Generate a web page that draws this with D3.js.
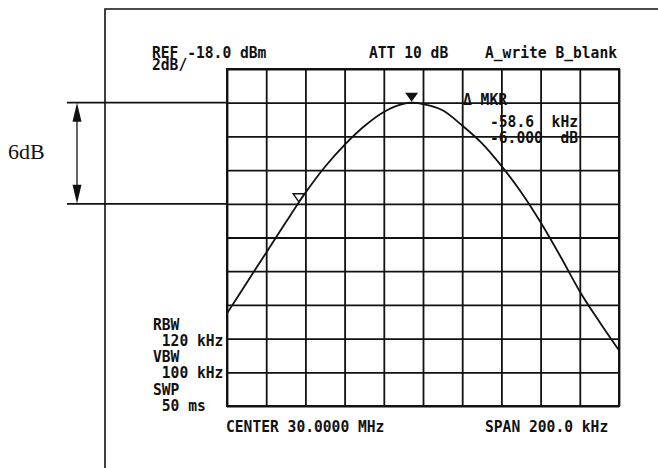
<!DOCTYPE html>
<html>
<head>
<meta charset="utf-8">
<script src="https://cdn.jsdelivr.net/npm/d3@7"></script>
<style>
  html, body { margin: 0; padding: 0; background: #fff; }
  svg { display: block; }
  .mono { font-family: "DejaVu Sans Mono", "Liberation Mono", monospace; font-size: 15px; font-weight: bold; fill: #111; white-space: pre; }
  .serif { font-family: "Liberation Serif", "DejaVu Serif", serif; font-size: 22px; fill: #111; }
</style>
</head>
<body>
<svg id="chart" width="658" height="468"></svg>
<script>
// Swept trace: offset from the 30 MHz centre (kHz) and displayed level (dBm)
const offsetKHz = [-100, -90, -80, -70, -60, -50, -40, -30, -20, -10, -5.8, 0, 10, 20, 30, 40, 50, 60, 70, 80, 90, 100];
const levelDbm  = [-32.5, -30.7, -28.9, -27.1, -25.35, -23.8, -22.5, -21.4, -20.55, -20.07, -20.0, -20.08, -20.45, -21.35, -22.4, -23.75, -25.3, -27.1, -29.1, -31.2, -33.0, -34.7];

// Graticule divisions: 20 kHz/div horizontally, 2 dB/div from the -18 dBm reference
const freqDivs  = [-100, -80, -60, -40, -20, 0, 20, 40, 60, 80, 100];
const levelDivs = [-18, -20, -22, -24, -26, -28, -30, -32, -34, -36, -38];

// Peak marker and delta marker readout
const markerKHz = -5.8;
const markerDbm = -20.0;
const deltaKHz = -58.6;
const deltaDb = -6.0;

// Annotation texts
const headerLeft = ["REF -18.0 dBm", "2dB/"];
const headerMid = "ATT 10 dB";
const headerRight = "A_write B_blank";
const deltaLines = ["\u0394 MKR", "-58.6  kHz", "-6.000  dB"];
const bwLabels = ["RBW", " 120 kHz", "VBW", " 100 kHz", "SWP", " 50 ms"];
const footerLeft = "CENTER 30.0000 MHz";
const footerRight = "SPAN 200.0 kHz";
const spanLabel = "6dB";

const svg = d3.select("#chart");
const ink = "#111";
const gx0 = 227, gx1 = 619, gy0 = 69, gy1 = 406;

const x = d3.scaleLinear().domain([-100, 100]).range([gx0, gx1]);
const y = d3.scaleLinear().domain([-38, -18]).range([gy1, gy0]);

// Outer frame of the screen photo
svg.append("path")
  .attr("d", "M105,468 V9 H658")
  .attr("fill", "none").attr("stroke", ink).attr("stroke-width", 1.6);

// Graticule
const gridX = svg.append("g")
  .attr("transform", `translate(0,${gy1})`)
  .call(d3.axisBottom(x).tickValues(freqDivs).tickSize(-(gy1 - gy0)).tickFormat(""));
const gridY = svg.append("g")
  .attr("transform", `translate(${gx0},0)`)
  .call(d3.axisLeft(y).tickValues(levelDivs).tickSize(-(gx1 - gx0)).tickFormat(""));
[gridX, gridY].forEach(g => {
  g.select(".domain").remove();
  g.selectAll(".tick line").attr("stroke", ink).attr("stroke-width", 1.8);
});
svg.append("rect")
  .attr("x", gx0).attr("y", gy0).attr("width", gx1 - gx0).attr("height", gy1 - gy0)
  .attr("fill", "none").attr("stroke", ink).attr("stroke-width", 2);

// Trace
svg.append("clipPath").attr("id", "clip")
  .append("rect").attr("x", gx0).attr("y", gy0).attr("width", gx1 - gx0).attr("height", gy1 - gy0);
const pts = offsetKHz.map((f, i) => [f, levelDbm[i]]);
svg.append("path")
  .datum(pts)
  .attr("clip-path", "url(#clip)")
  .attr("d", d3.line().x(d => x(d[0])).y(d => y(d[1])).curve(d3.curveMonotoneX))
  .attr("fill", "none").attr("stroke", ink).attr("stroke-width", 1.8);

// Peak marker (filled) and delta marker (hollow)
const tri = (cx, tipY, w, h) => `M${cx - w / 2},${tipY - h} L${cx + w / 2},${tipY - h} L${cx},${tipY} Z`;
svg.append("path")
  .attr("d", tri(x(markerKHz), y(markerDbm) - 1, 13, 9))
  .attr("fill", ink);
svg.append("path")
  .attr("d", tri(x(markerKHz + deltaKHz) + 2, y(markerDbm + deltaDb) - 2, 11, 8))
  .attr("fill", "#fff").attr("stroke", ink).attr("stroke-width", 1.5);

// 6 dB span annotation on the left
const yTop = y(markerDbm), yBot = y(markerDbm + deltaDb);
[yTop, yBot].forEach(v => {
  svg.append("line").attr("x1", 67).attr("x2", gx0).attr("y1", v).attr("y2", v)
    .attr("stroke", ink).attr("stroke-width", 1.8);
});
const ax = 77;
svg.append("line").attr("x1", ax).attr("x2", ax).attr("y1", yTop + 10).attr("y2", yBot - 10)
  .attr("stroke", ink).attr("stroke-width", 1.3);
svg.append("path").attr("d", `M${ax},${yTop} L${ax - 4.5},${yTop + 19} L${ax + 4.5},${yTop + 19} Z`).attr("fill", ink);
svg.append("path").attr("d", `M${ax},${yBot} L${ax - 4.5},${yBot - 19} L${ax + 4.5},${yBot - 19} Z`).attr("fill", ink);
svg.append("text").attr("class", "serif").attr("x", 8).attr("y", 159).text(spanLabel);

// Monospaced screen annotations (condensed to the display's character pitch)
const pitch = 8.8;
function label(txt, px, py) {
  svg.append("text").attr("class", "mono")
    .attr("x", px).attr("y", py)
    .attr("textLength", txt.length * pitch)
    .attr("lengthAdjust", "spacingAndGlyphs")
    .text(txt);
}
label(headerLeft[0], 152, 58);
label(headerLeft[1], 152, 70);
label(headerMid, 369, 58);
label(headerRight, 485, 58);
label(deltaLines[0], 463, 105);
label(deltaLines[1], 490, 127);
label(deltaLines[2], 490, 143);
const bwY = [330, 346, 362, 378, 395, 411];
bwLabels.forEach((t, i) => label(t, 153, bwY[i]));
label(footerLeft, 226, 432);
label(footerRight, 485, 432);
</script>
</body>
</html>
